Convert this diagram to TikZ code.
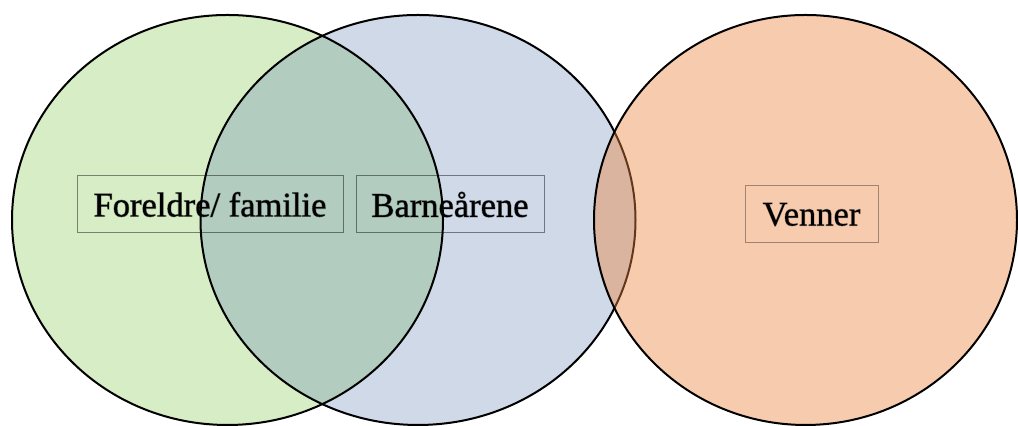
\documentclass[tikz,border=0pt]{standalone}
\usepackage{fontspec}
\setmainfont{Liberation Serif}
\newfontfamily\lblfont[FakeBold=3]{Liberation Serif}
\usepackage{tikz}
\usetikzlibrary{positioning}
\definecolor{mgreen}{RGB}{122,195,62}
\definecolor{mblue}{RGB}{95,128,178}
\definecolor{morange}{RGB}{236,132,62}
\tikzstyle{l1}=[line width=1]
\tikzstyle{box}=[draw=black, draw opacity=0.45, line width=0.5, minimum height=28.5pt, inner sep=0pt, font=\lblfont\fontsize{17.25}{20}\selectfont]

\begin{document}
\begin{tikzpicture}[x=0.5pt,y=0.5pt]
    \useasboundingbox (0,0) rectangle (1018,426);
    % circle fills
    \fill[mgreen, fill opacity=0.3] (227.5,206) ellipse (215.5 and 205);
    \fill[mblue, fill opacity=0.3]  (418,206) ellipse (217.5 and 205);

    \node[box, minimum width=133pt] (fam) at (210,221.5) {Foreldre/ familie};
    \node[box, minimum width=94pt, right=6pt of fam] (barn) {Barneårene};

    % outlines, the blue one lies under the orange circle
    \draw[l1] (227.5,206) ellipse (215.5 and 205);
    \draw[l1] (418,206) ellipse (217.5 and 205);
    \fill[morange, fill opacity=0.42] (805.5,206) ellipse (211.5 and 205);
    \draw[l1] (805.5,206) ellipse (211.5 and 205);

    \node[box, minimum width=66.5pt, draw opacity=0.35] (venn) at (811.5,211.5) {Venner};
\end{tikzpicture}
\end{document}
